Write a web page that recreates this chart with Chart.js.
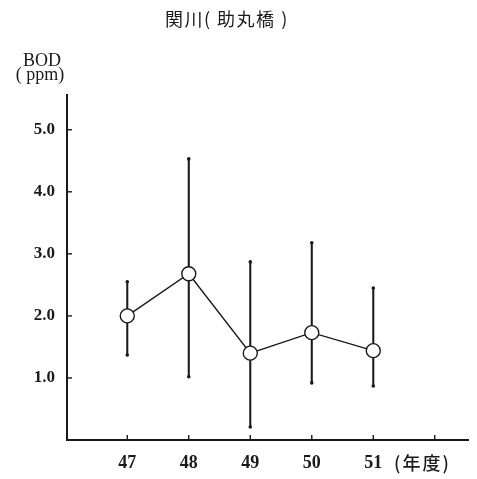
<!DOCTYPE html>
<html>
<head>
<meta charset="utf-8">
<script src="https://cdn.jsdelivr.net/npm/chart.js@4/dist/chart.umd.min.js"></script>
<style>
  html, body { margin: 0; padding: 0; background: #fff; }
  #wrap { width: 477px; height: 479px; }
</style>
</head>
<body>
<div id="wrap"><canvas id="chart"></canvas></div>
<script>
// --- DATA ---
const years = [47, 48, 49, 50, 51];
const bodMean = [2.0, 2.68, 1.40, 1.73, 1.44];
const bodMax = [2.55, 4.53, 2.87, 3.18, 2.45];
const bodMin = [1.37, 1.02, 0.21, 0.92, 0.87];
const xTicks = [47, 48, 49, 50, 51, 52];
const yTicks = [1.0, 2.0, 3.0, 4.0, 5.0];

const INK = '#1a1a1a';
const serif = "'Liberation Serif', 'DejaVu Serif', serif";
const jp = "'Noto Sans CJK JP', sans-serif";

// inner tick marks + free texts (title, unit labels)
const decorations = {
    id: 'decorations',
    afterDraw(chart) {
        const ctx = chart.ctx;
        const x = chart.scales.x;
        const y = chart.scales.y;
        ctx.save();
        ctx.strokeStyle = INK;
        ctx.lineWidth = 1.4;
        xTicks.forEach(v => {
            const px = x.getPixelForValue(v);
            ctx.beginPath();
            ctx.moveTo(px, y.bottom);
            ctx.lineTo(px, y.bottom - 5);
            ctx.stroke();
        });
        yTicks.forEach(v => {
            const py = y.getPixelForValue(v);
            ctx.beginPath();
            ctx.moveTo(x.left, py);
            ctx.lineTo(x.left + 5, py);
            ctx.stroke();
        });

        ctx.fillStyle = INK;
        ctx.textBaseline = 'middle';
        ctx.textAlign = 'left';
        ctx.font = "18px " + jp;
        ctx.letterSpacing = '1.5px';
        ctx.fillText('関川( 助丸橋 )', 165, 19);

        ctx.letterSpacing = '0px';
        ctx.textAlign = 'center';
        ctx.font = "18px " + serif;
        ctx.fillText('BOD', 42, 61);
        ctx.fillText('( ppm)', 40, 75);

        ctx.textAlign = 'left';
        ctx.font = "500 18px " + jp;
        ctx.letterSpacing = '2px';
        ctx.fillText('(年度)', 394, 463);
        ctx.restore();
    }
};

const ctx = document.getElementById('chart').getContext('2d');
new Chart(ctx, {
    type: 'line',
    data: {
        datasets: [
            {
                type: 'line',
                label: '平均',
                data: years.map((yr, i) => ({ x: yr, y: bodMean[i] })),
                borderColor: INK,
                borderWidth: 1.4,
                pointRadius: 7,
                pointBackgroundColor: '#fff',
                pointBorderColor: INK,
                pointBorderWidth: 1.4,
                tension: 0
            },
            {
                type: 'line',
                label: '端点',
                data: years.flatMap((yr, i) => [{ x: yr, y: bodMax[i] }, { x: yr, y: bodMin[i] }]),
                showLine: false,
                pointRadius: 1.8,
                pointBackgroundColor: INK,
                pointBorderWidth: 0
            },
            {
                type: 'bar',
                label: '範囲',
                data: years.map((yr, i) => ({ x: yr, y: [bodMin[i], bodMax[i]] })),
                backgroundColor: INK,
                borderWidth: 0,
                barThickness: 1.4
            }
        ]
    },
    options: {
        responsive: true,
        maintainAspectRatio: false,
        animation: false,
        layout: { padding: { top: 95, right: 4, left: 0, bottom: 0 } },
        plugins: {
            legend: { display: false },
            tooltip: { enabled: false }
        },
        scales: {
            x: {
                type: 'linear',
                offset: false,
                min: 46.02,
                max: 52.55,
                afterBuildTicks: s => { s.ticks = xTicks.map(v => ({ value: v })); },
                afterFit: s => { s.height = 39; },
                grid: { display: false, drawTicks: false },
                border: { display: true, color: INK, width: 2 },
                ticks: {
                    padding: 13,
                    color: INK,
                    font: { family: serif, size: 18, weight: 'bold' },
                    maxRotation: 0,
                    callback: v => (v <= 51 ? String(v) : '')
                }
            },
            y: {
                min: 0,
                max: 5.56,
                afterBuildTicks: s => { s.ticks = yTicks.map(v => ({ value: v })); },
                afterFit: s => { s.width = 67; },
                grid: { display: false, drawTicks: false },
                border: { display: true, color: INK, width: 2 },
                ticks: {
                    padding: 12,
                    color: INK,
                    font: { family: serif, size: 17, weight: 'bold' },
                    callback: v => v.toFixed(1)
                }
            }
        }
    },
    plugins: [decorations]
});
</script>
</body>
</html>
